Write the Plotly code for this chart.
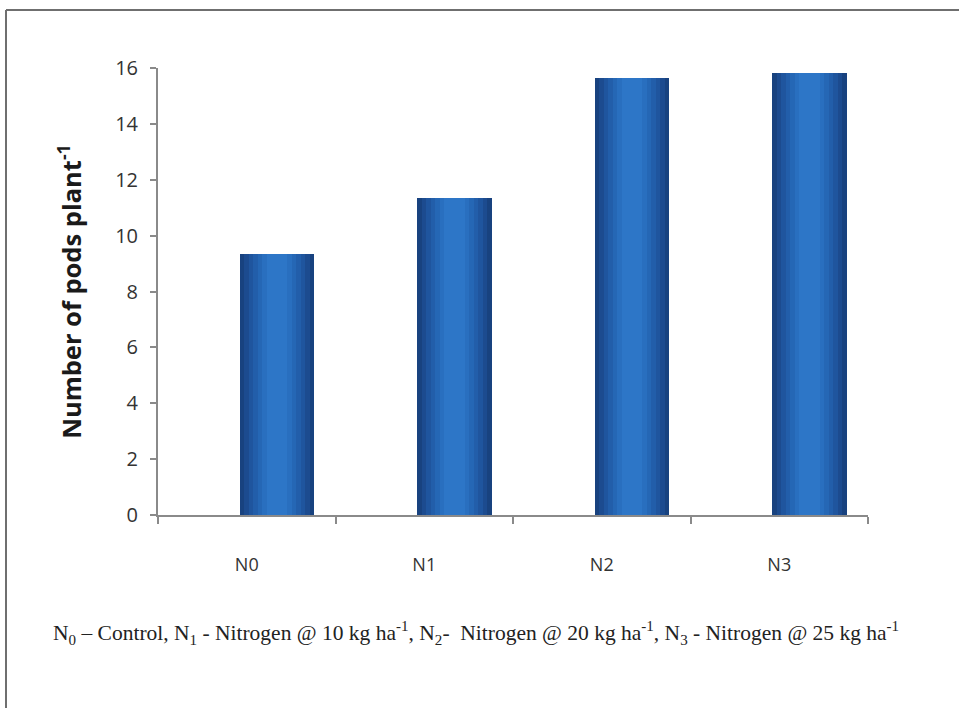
import plotly.graph_objects as go

# Data
categories = ["N0", "N1", "N2", "N3"]
pods_per_plant = [9.33, 11.33, 15.63, 15.83]
y_ticks = [0, 2, 4, 6, 8, 10, 12, 14, 16]

W, H = 959, 708
M_L, M_R, M_T, M_B = 158, 91, 68, 193

# Shaded "cylinder" look: stacked overlays from dark edges to a bright core
bar_width = 0.42
bar_shift = 0.17
shades = ["#18427f", "#1c4b8f", "#1f559e", "#225eaa", "#2567b5", "#296fbf", "#2d76c7"]

fig = go.Figure()
for i, col in enumerate(shades):
    w = bar_width * (1 - i / len(shades) * 0.85)
    fig.add_trace(go.Bar(
        x=categories,
        y=pods_per_plant,
        width=w,
        offset=bar_shift - w / 2,
        marker=dict(color=col, line=dict(width=0)),
        hoverinfo="skip" if i else None,
        showlegend=False,
    ))

# Outer frame around the chart
pw = W - M_L - M_R
ph = H - M_T - M_B
def px_x(p):
    return (p - M_L) / pw
def px_y(p):
    return (H - M_B - p) / ph

fig.add_shape(type="line", xref="paper", yref="paper",
              x0=px_x(6), x1=px_x(W + 5), y0=px_y(10), y1=px_y(10),
              line=dict(color="#6f6f6f", width=2))
fig.add_shape(type="line", xref="paper", yref="paper",
              x0=px_x(6), x1=px_x(6), y0=px_y(10), y1=px_y(H + 5),
              line=dict(color="#6f6f6f", width=2))

# Footnote explaining treatments
fig.add_annotation(
    xref="paper", yref="paper",
    x=px_x(476), y=px_y(633),
    xanchor="center", yanchor="middle",
    showarrow=False,
    text=("N<sub>0</sub> – Control, N<sub>1</sub> - Nitrogen @ 10 kg ha<sup>-1</sup>, "
          "N<sub>2</sub>-  Nitrogen @ 20 kg ha<sup>-1</sup>, "
          "N<sub>3</sub> - Nitrogen @ 25 kg ha<sup>-1</sup>"),
    font=dict(family="Liberation Serif", size=21.5, color="#222222"),
)

fig.update_layout(
    width=W, height=H,
    margin=dict(l=M_L, r=M_R, t=M_T, b=M_B),
    paper_bgcolor="white",
    plot_bgcolor="white",
    barmode="overlay",
    bargap=0,
    font=dict(family="Open Sans", color="#333333"),
    xaxis=dict(
        type="category",
        range=[-0.5, 3.5],
        showline=True, linecolor="#8a8a8a", linewidth=2,
        ticks="outside", tickson="boundaries", ticklen=7, tickcolor="#8a8a8a", tickwidth=1.5,
        tickfont=dict(size=18, color="#333333"),
        ticklabelstandoff=32,
        showgrid=False, zeroline=False,
    ),
    yaxis=dict(
        range=[0, 16],
        tickvals=y_ticks,
        showline=True, linecolor="#8a8a8a", linewidth=2,
        ticks="outside", ticklen=6, tickcolor="#8a8a8a", tickwidth=1.5,
        tickfont=dict(size=20, color="#333333"),
        ticklabelstandoff=8,
        showgrid=False, zeroline=False,
        title=dict(text="<b>Number of pods plant<sup>-1</sup></b>",
                   font=dict(size=25.5, color="#1a1a1a"), standoff=26),
    ),
)

fig.write_html("out.html")
